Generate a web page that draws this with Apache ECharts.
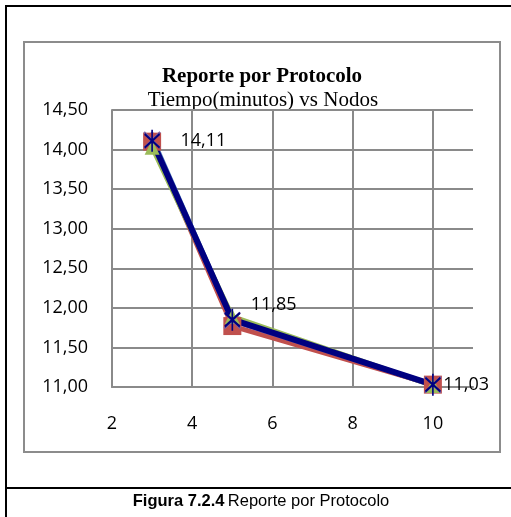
<!DOCTYPE html>
<html>
<head>
<meta charset="utf-8">
<script src="https://cdn.jsdelivr.net/npm/echarts@6/dist/echarts.min.js"></script>
<style>
html,body{margin:0;padding:0;background:#fff;}
#c{width:511px;height:517px;}
</style>
</head>
<body>
<div id="c"></div>
<script>
var nodos = [3, 5, 10];
var serieAzul = [14.15, 11.85, 11.02];
var serieRoja = [14.10, 11.77, 11.03];
var serieVerde = [14.03, 11.89, 11.02];
var serieMorada = [14.12, 11.84, 11.03];
var serieNavy = [14.11, 11.85, 11.03];
var tituloTexto = 'Reporte por Protocolo';
var subtituloTexto = 'Tiempo(minutos) vs Nodos';

function pts(vals) { return nodos.map(function (x, i) { return [x, vals[i]]; }); }

var chart = echarts.init(document.getElementById('c'), null, {renderer: 'canvas'});
var labelOffsets = [[20, 0], [10, -15], [2, 0]];
var navyData = pts(serieNavy).map(function (p, i) {
  return {value: p, label: {offset: labelOffsets[i]}};
});
var gridColor = '#8a8a8a';
var fmt = function (v) { return v.toFixed(2).replace('.', ','); };

chart.setOption({
  animation: false,
  backgroundColor: '#ffffff',
  grid: {left: 112, top: 110, width: 361, height: 277, containLabel: false},
  xAxis: {
    type: 'value', min: 2, max: 11, interval: 2,
    axisLine: {show: true, lineStyle: {color: gridColor, width: 2}},
    axisTick: {show: false},
    splitLine: {show: true, showMaxLine: false, lineStyle: {color: gridColor, width: 2}},
    axisLabel: {
      margin: 28, color: '#000', fontFamily: 'Open Sans', fontSize: 18, showMaxLabel: false,
      formatter: function (v) { return v === 11 ? '' : String(v); }
    }
  },
  yAxis: {
    type: 'value', min: 11, max: 14.5, interval: 0.5,
    axisLine: {show: true, lineStyle: {color: gridColor, width: 2}},
    axisTick: {show: false},
    splitLine: {show: true, lineStyle: {color: gridColor, width: 2}},
    axisLabel: {margin: 24, color: '#000', fontFamily: 'Open Sans', fontSize: 18, formatter: fmt}
  },
  series: [
    {type: 'line', data: pts(serieAzul), symbol: 'diamond', symbolSize: 13,
      lineStyle: {color: '#4F81BD', width: 5}, itemStyle: {color: '#4F81BD'}},
    {type: 'line', data: pts(serieRoja), symbol: 'rect', symbolSize: 18,
      lineStyle: {color: '#C0504D', width: 5}, itemStyle: {color: '#C0504D'}},
    {type: 'line', data: pts(serieVerde), symbol: 'triangle', symbolSize: 15,
      lineStyle: {color: '#9BBB59', width: 5}, itemStyle: {color: '#9BBB59'}},
    {type: 'line', data: pts(serieMorada), symbol: 'path://M0,0L10,10M10,0L0,10', symbolSize: 16,
      lineStyle: {color: '#8064A2', width: 5}, itemStyle: {color: 'rgba(0,0,0,0)', borderColor: '#8064A2', borderWidth: 2}},
    {type: 'line', data: navyData, symbol: 'path://M0,3L10,13M10,3L0,13M5,0L5,16', symbolSize: [15, 22],
      lineStyle: {color: '#000080', width: 6}, itemStyle: {color: 'rgba(0,0,0,0)', borderColor: '#000080', borderWidth: 2},
      label: {show: true, position: 'right', distance: 0, color: '#000', fontFamily: 'Open Sans', fontSize: 18,
        formatter: function (p) { return fmt(p.value[1]); }}}
  ],
  graphic: [
    {type: 'rect', shape: {x: 24, y: 42, width: 476, height: 410}, style: {fill: 'none', stroke: '#8c8c8c', lineWidth: 2}, z: -1},
    {type: 'line', shape: {x1: 5, y1: 6, x2: 511, y2: 6}, style: {stroke: '#000', lineWidth: 2}},
    {type: 'line', shape: {x1: 6, y1: 5, x2: 6, y2: 517}, style: {stroke: '#000', lineWidth: 2}},
    {type: 'line', shape: {x1: 5, y1: 488, x2: 511, y2: 488}, style: {stroke: '#000', lineWidth: 2}},
    {type: 'text', x: 262, y: 77, style: {text: tituloTexto, fill: '#000', font: 'bold 21px "Liberation Serif"', align: 'center', verticalAlign: 'middle'}},
    {type: 'text', x: 263, y: 100, style: {text: subtituloTexto, fill: '#000', font: '21px "Liberation Serif"', align: 'center', verticalAlign: 'middle'}},
    {type: 'text', x: 261, y: 501, style: {
      text: '{b|Figura 7.2.4} {r|Reporte por Protocolo}', align: 'center', verticalAlign: 'middle',
      rich: {b: {fontFamily: 'Liberation Sans', fontWeight: 'bold', fontSize: 16.5, fill: '#000'},
             r: {fontFamily: 'Liberation Sans', fontSize: 16.5, fill: '#000'}}
    }}
  ]
});
</script>
</body>
</html>
